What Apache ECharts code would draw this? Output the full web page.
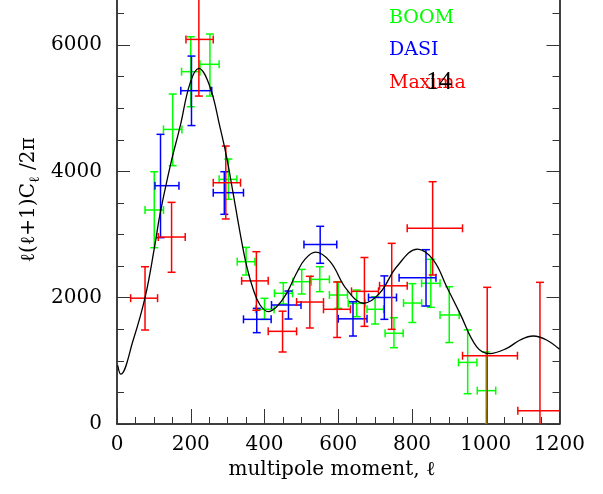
<!DOCTYPE html>
<html>
<head>
<meta charset="utf-8">
<script src="https://cdn.jsdelivr.net/npm/echarts@6/dist/echarts.min.js"></script>
<style>
html,body{margin:0;padding:0;background:#fff;}
#chart{width:603px;height:494px;}
</style>
</head>
<body>
<div id="chart"></div>
<script>
// [ell, value, ellLow, ellHigh, valueLow, valueHigh]
const boomData = [
  [101, 3388, 76, 126, 2791, 3994],
  [151, 4664, 126, 176, 4090, 5224],
  [200, 5578, 175, 225, 5023, 6131],
  [252, 5695, 225, 277, 5192, 6174],
  [302, 3873, 277, 325, 3557, 4195],
  [350, 2570, 326, 374, 2359, 2797],
  [400, 1816, 376, 426, 1657, 1990],
  [451, 2069, 427, 476, 1900, 2237],
  [501, 2253, 477, 527, 2058, 2448],
  [550, 2290, 526, 576, 2095, 2490],
  [600, 2042, 576, 625, 1831, 2253],
  [650, 1910, 627, 673, 1699, 2121],
  [700, 1816, 678, 723, 1583, 2015],
  [751, 1436, 727, 776, 1208, 1683],
  [801, 1915, 777, 826, 1607, 2222],
  [851, 2227, 826, 876, 1847, 2607],
  [901, 1726, 876, 928, 1290, 2174],
  [951, 975, 926, 976, 480, 1490],
  [1001, 528, 977, 1027, -500, 1140]
];
const dasiData = [
  [118, 3773, 103, 168, 2950, 4586],
  [202, 5277, 173, 257, 4725, 5825],
  [291, 3662, 261, 343, 3320, 3994],
  [379, 1657, 343, 418, 1446, 1831],
  [465, 1884, 419, 499, 1662, 2105],
  [551, 2840, 507, 596, 2544, 3130],
  [640, 1665, 600, 678, 1393, 1936],
  [725, 2003, 682, 758, 1657, 2345],
  [838, 2316, 765, 865, 1868, 2760]
];
const maximaData = [
  [76, 1992, 37, 110, 1488, 2490],
  [148, 2960, 112, 185, 2402, 3509],
  [222, 6089, 187, 261, 5192, 7300],
  [295, 3820, 261, 335, 3246, 4401],
  [378, 2266, 338, 410, 1800, 2728],
  [449, 1467, 410, 487, 1140, 1786],
  [523, 1931, 487, 560, 1520, 2338],
  [597, 1816, 560, 633, 1370, 2248],
  [671, 2100, 636, 709, 1546, 2636],
  [745, 2188, 712, 787, 1499, 2860],
  [856, 3098, 787, 937, 2359, 3836],
  [1004, 1081, 937, 1086, -500, 2164],
  [1147, 211, 1087, 1210, -500, 2243]
];
const theoryCurve = [
  [2, 930], [10, 790], [44, 1330], [76, 2000], [102, 2807], [117, 3335],
  [146, 4127], [171, 4707], [198, 5393], [222, 5630], [252, 5340], [279, 4707],
  [297, 4232], [315, 3652], [334, 3019], [352, 2490], [370, 2121], [388, 1884],
  [410, 1780], [433, 1857], [460, 2069], [487, 2390], [510, 2610], [538, 2720],
  [578, 2570], [623, 2130], [670, 1912], [713, 2075], [758, 2485], [815, 2768],
  [858, 2596], [894, 2174], [930, 1752], [975, 1224], [1010, 1115], [1057, 1198],
  [1093, 1330], [1129, 1393], [1165, 1330], [1200, 1182]
];
const xTicks = [0, 200, 400, 600, 800, 1000, 1200];
const yTicks = [0, 2000, 4000, 6000];
const legendNames = ['BOOM', 'DASI', 'Maxima'];
const legendColors = ['#00ff00', '#0000ff', '#ff0000'];

const serif = '"DejaVu Serif", serif';

function makeRenderer(color) {
  return function (params, api) {
    const x = api.value(0), y = api.value(1);
    const pl = api.coord([api.value(2), y]);
    const pr = api.coord([api.value(3), y]);
    const pb = api.coord([x, api.value(4)]);
    const pt = api.coord([x, api.value(5)]);
    const c = 4;
    const st = { stroke: color, lineWidth: 1.5, fill: null };
    const ln = (x1, y1, x2, y2) => ({ type: 'line', shape: { x1, y1, x2, y2 }, style: st });
    return {
      type: 'group',
      children: [
        ln(pl[0], pl[1], pr[0], pr[1]),
        ln(pb[0], pb[1], pt[0], pt[1]),
        ln(pl[0], pl[1] - c, pl[0], pl[1] + c),
        ln(pr[0], pr[1] - c, pr[0], pr[1] + c),
        ln(pb[0] - c, pb[1], pb[0] + c, pb[1]),
        ln(pt[0] - c, pt[1], pt[0] + c, pt[1])
      ]
    };
  };
}

const chart = echarts.init(document.getElementById('chart'), null, { renderer: 'canvas' });

const yAxisCommon = {
  type: 'value', min: 0, max: 8000, interval: 2000,
  splitLine: { show: false },
  axisLine: { show: true, lineStyle: { color: '#000', width: 1.5 } },
  axisTick: { show: true, inside: true, length: 13, lineStyle: { color: '#333', width: 1 } },
  minorTick: { show: true, splitNumber: 4, length: 7, lineStyle: { color: '#333', width: 1 } },
  minorSplitLine: { show: false }
};

const option = {
  animation: false,
  backgroundColor: '#fff',
  grid: { left: 117, right: 43.5, top: -81.3, bottom: 70, containLabel: false, outerBoundsMode: 'none' },
  xAxis: {
    type: 'value', min: 0, max: 1200, interval: 200,
    splitLine: { show: false },
    axisLine: { show: true, onZero: false, lineStyle: { color: '#000', width: 1.5 } },
    axisTick: { show: true, inside: true, length: 15, lineStyle: { color: '#333', width: 1 } },
    minorTick: { show: true, splitNumber: 4, length: 7, lineStyle: { color: '#333', width: 1 } },
    axisLabel: {
      margin: 11, color: '#000', fontFamily: serif, fontSize: 20,
      formatter: v => (xTicks.indexOf(v) >= 0 ? String(v) : '')
    }
  },
  yAxis: [
    Object.assign({}, yAxisCommon, {
      position: 'left',
      axisLabel: {
        margin: 15, color: '#000', fontFamily: serif, fontSize: 20,
        formatter: v => (yTicks.indexOf(v) >= 0 ? String(v) : '')
      }
    }),
    Object.assign({}, yAxisCommon, {
      position: 'right',
      axisLabel: { show: false }
    })
  ],
  series: [
    { type: 'custom', name: legendNames[0], data: boomData, encode: { x: 0, y: 1 }, clip: true, renderItem: makeRenderer(legendColors[0]), z: 2 },
    { type: 'custom', name: legendNames[1], data: dasiData, encode: { x: 0, y: 1 }, clip: true, renderItem: makeRenderer(legendColors[1]), z: 2 },
    { type: 'custom', name: legendNames[2], data: maximaData, encode: { x: 0, y: 1 }, clip: true, renderItem: makeRenderer(legendColors[2]), z: 2 },
    {
      type: 'line', data: theoryCurve, smooth: 0.4, showSymbol: false, clip: true,
      lineStyle: { color: '#000', width: 1.3 }, z: 3
    }
  ],
  graphic: [
    { type: 'text', left: 389, top: 9, style: { text: legendNames[0], fill: legendColors[0], font: '19px ' + serif } },
    { type: 'text', left: 389, top: 41, style: { text: legendNames[1], fill: legendColors[1], font: '19px ' + serif } },
    { type: 'text', left: 389, top: 74, style: { text: legendNames[2], fill: legendColors[2], font: '19px ' + serif } },
    { type: 'text', left: 426, top: 69, style: { text: '14', fill: '#000', font: '26px "Liberation Serif", serif' } },
    {
      type: 'text', x: 332, y: 470,
      style: { text: 'multipole moment, ℓ', fill: '#000', font: '20px ' + serif, textAlign: 'center', textVerticalAlign: 'middle' }
    },
    {
      type: 'text', x: 29, y: 200, rotation: Math.PI / 2,
      style: {
        text: '{m|ℓ(ℓ+1)C}{s|ℓ}{m| /2π}',
        textAlign: 'center', textVerticalAlign: 'middle', fill: '#000',
        rich: {
          m: { fontFamily: serif, fontSize: 20, lineHeight: 26, fill: '#000' },
          s: { fontFamily: serif, fontSize: 14, lineHeight: 26, verticalAlign: 'bottom', fill: '#000' }
        }
      }
    }
  ]
};
chart.setOption(option);
</script>
</body>
</html>
